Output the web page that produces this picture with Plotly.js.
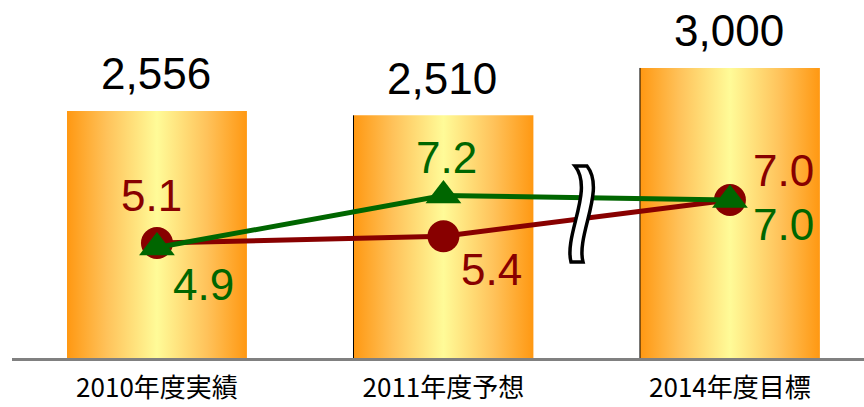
<!DOCTYPE html>
<html><head><meta charset="utf-8">
<script src="https://cdn.plot.ly/plotly-3.0.1.min.js"></script>
<style>html,body{margin:0;padding:0;background:#fff;}#chart{width:864px;height:407px;}</style>
</head><body><div id="chart"></div>
<script>
// ---- data ----
const categories = ['2010年度実績', '2011年度予想', '2014年度目標'];
const barValues = [2556, 2510, 3000];
const redValues = [5.1, 5.4, 7.0];
const greenValues = [4.9, 7.2, 7.0];

// ---- styles / layout constants ----
const W = 864, H = 407, ML = 12, MR = 0, MT = 0, MB = 49;
const PW = W - ML - MR, PH = H - MT - MB;
const xRange = [-0.506, 2.468];
const yRange = [0, 3703];
const y2Range = [0.02, 15.84];
const halfW = 0.314;
const RED = '#880000', GREEN = '#006600';
const gradScale = [[0, '#FF9812'], [0.22, '#FFC25A'], [0.5, '#FFFB98'], [0.78, '#FFC25A'], [1, '#FF9812']];
const labelFont = {family: '"Liberation Sans", Arial, sans-serif', size: 44};
const redOffsets = [[-5.5, 47.5], [48.5, -33.5], [54, 30]];
const greenOffsets = [[46.5, -36.5], [3.5, 38], [54, -24]];

const traces = [];
// gradient-filled bars (one polygon trace per bar so each gets its own gradient)
barValues.forEach((v, i) => {
  traces.push({
    type: 'scatter', mode: 'lines', fill: 'toself',
    x: [i - halfW, i + halfW, i + halfW, i - halfW, i - halfW],
    y: [0, 0, v, v, 0],
    line: {width: 0},
    fillgradient: {type: 'horizontal', colorscale: gradScale},
    hoverinfo: 'skip', showlegend: false, xaxis: 'x', yaxis: 'y'
  });
});
// thin dark left edges seen on the 2nd and 3rd bars
[1, 2].forEach(i => {
  traces.push({
    type: 'scatter', mode: 'lines',
    x: [i - halfW, i - halfW], y: [0, barValues[i]],
    line: {width: 1, color: '#000'}, hoverinfo: 'skip', showlegend: false
  });
});
// lines
traces.push({
  type: 'scatter', mode: 'lines+markers', x: [0, 1, 2], y: redValues, yaxis: 'y2',
  line: {color: RED, width: 5},
  marker: {symbol: 'circle', size: 32, color: RED},
  hoverinfo: 'skip', showlegend: false
});
traces.push({
  type: 'scatter', mode: 'lines+markers', x: [0, 1, 2], y: greenValues, yaxis: 'y2',
  line: {color: GREEN, width: 5},
  marker: {symbol: 'triangle-up', size: 31, color: GREEN},
  hoverinfo: 'skip', showlegend: false
});

const annotations = [];
barValues.forEach((v, i) => {
  annotations.push({
    x: i, y: v, xref: 'x', yref: 'y', text: v.toLocaleString('en-US'),
    showarrow: false, xanchor: 'center', yanchor: 'middle', xshift: -1, yshift: 37,
    font: Object.assign({color: '#000'}, labelFont)
  });
});
redValues.forEach((v, i) => {
  annotations.push({
    x: i, y: v, xref: 'x', yref: 'y2', text: v.toFixed(1), showarrow: false,
    xanchor: 'center', yanchor: 'middle', xshift: redOffsets[i][0], yshift: redOffsets[i][1],
    font: Object.assign({color: RED}, labelFont)
  });
});
greenValues.forEach((v, i) => {
  annotations.push({
    x: i, y: v, xref: 'x', yref: 'y2', text: v.toFixed(1), showarrow: false,
    xanchor: 'center', yanchor: 'middle', xshift: greenOffsets[i][0], yshift: greenOffsets[i][1],
    font: Object.assign({color: GREEN}, labelFont)
  });
});

// axis-break symbol (wavy band), defined in pixels then converted to paper coords
function px(x) { return ((x - ML) / PW).toFixed(5); }
function py(y) { return ((H - MB - y) / PH).toFixed(5); }
const c = [[581, 166], [600, 190], [570, 235], [577, 262]];
const d = 6;
function pt(p, dx) { return px(p[0] + dx) + ',' + py(p[1]); }
const breakPath =
  'M' + pt(c[0], -d) + ' C' + pt(c[1], -d) + ' ' + pt(c[2], -d) + ' ' + pt(c[3], -d) +
  ' L' + pt(c[3], d) + ' C' + pt(c[2], d) + ' ' + pt(c[1], d) + ' ' + pt(c[0], d) + ' Z';

const layout = {
  width: W, height: H,
  margin: {l: ML, r: MR, t: MT, b: MB, pad: 0},
  paper_bgcolor: '#fff', plot_bgcolor: 'rgba(0,0,0,0)',
  showlegend: false,
  xaxis: {
    range: xRange, tickvals: [0, 1, 2], ticktext: categories,
    showgrid: false, zeroline: false, showline: true, linecolor: '#808080', linewidth: 3,
    ticks: '', tickfont: {family: '"Noto Sans CJK JP", sans-serif', size: 26, color: '#000'},
    ticklabelstandoff: 5, fixedrange: true
  },
  yaxis: {range: yRange, visible: false, showgrid: false, zeroline: false, fixedrange: true},
  yaxis2: {range: y2Range, overlaying: 'y', visible: false, showgrid: false, zeroline: false, fixedrange: true},
  annotations: annotations,
  shapes: [{
    type: 'path', xref: 'paper', yref: 'paper', path: breakPath,
    fillcolor: '#fff', line: {color: '#000', width: 3.5}, layer: 'above'
  }]
};

Plotly.newPlot('chart', traces, layout, {displayModeBar: false, staticPlot: true});
</script>
</body></html>
